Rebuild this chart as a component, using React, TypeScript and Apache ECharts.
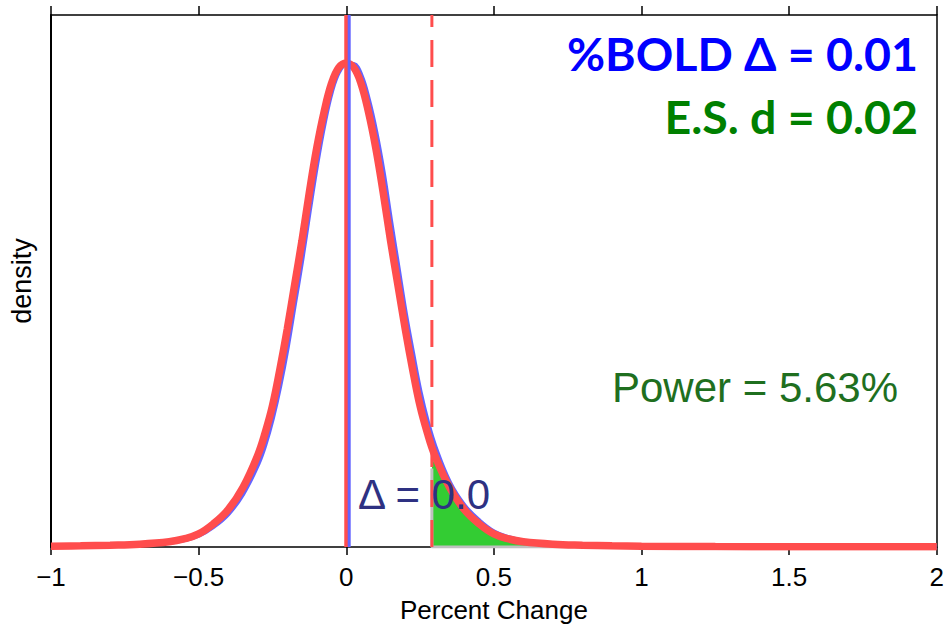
import React, { useEffect, useRef } from "react";
import * as echarts from "echarts";

// x grid (Percent Change)
const xs = [-1, -0.9, -0.8, -0.7, -0.6, -0.55, -0.5, -0.45, -0.4, -0.35, -0.3, -0.275, -0.25, -0.225, -0.2, -0.175, -0.15, -0.125, -0.1, -0.075, -0.05, -0.025, 0, 0.025, 0.05, 0.075, 0.1, 0.125, 0.15, 0.175, 0.2, 0.225, 0.25, 0.275, 0.3, 0.35, 0.4, 0.45, 0.5, 0.55, 0.6, 0.7, 0.8, 0.9, 1, 1.25, 1.5, 1.75, 2];

// null distribution density (red)
const nullDensity = [0.004, 0.006, 0.009, 0.014, 0.026, 0.04, 0.065, 0.115, 0.185, 0.295, 0.455, 0.565, 0.7, 0.88, 1.08, 1.3, 1.52, 1.76, 1.98, 2.16, 2.3, 2.38, 2.4, 2.38, 2.3, 2.16, 1.98, 1.76, 1.52, 1.3, 1.08, 0.88, 0.7, 0.565, 0.455, 0.295, 0.185, 0.115, 0.065, 0.04, 0.026, 0.014, 0.009, 0.006, 0.004, 0.002, 0.0015, 0.001, 0.001];

// alternative distribution density (blue)
const altDensity = [0.004, 0.006, 0.0085, 0.013, 0.024, 0.036, 0.058, 0.102, 0.165, 0.265, 0.41, 0.51, 0.64, 0.8, 0.99, 1.21, 1.43, 1.67, 1.9, 2.1, 2.26, 2.36, 2.397, 2.395, 2.34, 2.22, 2.06, 1.86, 1.62, 1.39, 1.16, 0.96, 0.77, 0.62, 0.5, 0.32, 0.205, 0.13, 0.075, 0.046, 0.029, 0.015, 0.0095, 0.0065, 0.0045, 0.002, 0.0015, 0.001, 0.001];

// power region (green)
const powerXs = [0.29, 0.3, 0.35, 0.4, 0.45, 0.5, 0.55, 0.6, 0.7, 0.8];
const powerYs = [0.39, 0.44, 0.3, 0.19, 0.12, 0.07, 0.043, 0.027, 0.014, 0.009];

const nullMean = 0;
const altMean = 0.01;
const criticalValue = 0.29;
const yMax = 2.64;

const xTickMin = -1;
const xTickMax = 2;
const xTickStep = 0.5;

const titleText1 = "%BOLD Δ = 0.01";
const titleText2 = "E.S. d = 0.02";
const powerText = "Power = 5.63%";
const deltaText = "Δ = 0.0";

export default function App() {
  const ref = useRef<HTMLDivElement>(null);

  useEffect(() => {
    document.body.style.margin = "0";
    if (!ref.current) return;
    const chart = echarts.init(ref.current, undefined, { renderer: "svg" });
    const pairs = (a: number[], b: number[]) => a.map((v, i) => [v, b[i]]);
    const font = "'Liberation Sans', Arial, Helvetica, sans-serif";

    chart.setOption({
      animation: false,
      backgroundColor: "#ffffff",
      grid: { left: 50, right: 9, top: 15, bottom: 81, containLabel: false },
      xAxis: [
        {
          type: "value",
          min: xTickMin,
          max: xTickMax,
          interval: xTickStep,
          position: "bottom",
          name: "Percent Change",
          nameLocation: "middle",
          nameGap: 50,
          nameTextStyle: { fontSize: 26, color: "#000", fontFamily: font },
          axisLine: { show: true, onZero: false, lineStyle: { color: "#000", width: 1.5 } },
          axisTick: { show: true, length: 8, lineStyle: { color: "#000", width: 1.5 } },
          axisLabel: {
            fontSize: 26,
            color: "#000",
            fontFamily: font,
            margin: 17,
            formatter: (v: number) => String(v).replace("-", "\u2212"),
          },
          splitLine: { show: false },
        },
        {
          type: "value",
          min: xTickMin,
          max: xTickMax,
          interval: xTickStep,
          position: "top",
          axisLine: { show: true, onZero: false, lineStyle: { color: "#000", width: 1.5 } },
          axisTick: { show: true, length: 9, lineStyle: { color: "#000", width: 1.5 } },
          axisLabel: { show: false },
          splitLine: { show: false },
        },
      ],
      yAxis: [
        {
          type: "value",
          min: 0,
          max: yMax,
          position: "left",
          name: "density",
          nameLocation: "middle",
          nameGap: 16,
          nameRotate: 90,
          nameTextStyle: { fontSize: 27, color: "#000", fontFamily: font },
          axisLine: { show: true, onZero: false, lineStyle: { color: "#000", width: 2 } },
          axisTick: { show: false },
          axisLabel: { show: false },
          splitLine: { show: false },
        },
        {
          type: "value",
          min: 0,
          max: yMax,
          position: "right",
          axisLine: { show: true, onZero: false, lineStyle: { color: "#000", width: 1.5 } },
          axisTick: { show: false },
          axisLabel: { show: false },
          splitLine: { show: false },
        },
      ],
      series: [
        {
          name: "power",
          type: "line",
          data: pairs(powerXs, powerYs),
          smooth: 0.3,
          symbol: "none",
          lineStyle: { width: 0 },
          areaStyle: { color: "#33cc33", opacity: 1 },
          z: 1,
          silent: true,
        },
        {
          name: "powerEdge",
          type: "line",
          data: [
            [criticalValue, powerYs[0]],
            [criticalValue, 0],
            [powerXs[powerXs.length - 1], 0],
          ],
          symbol: "none",
          lineStyle: { color: "#c0c0c0", width: 3 },
          z: 2,
          silent: true,
        },
        {
          name: "alternative",
          type: "line",
          data: pairs(xs, altDensity),
          smooth: 0.4,
          symbol: "none",
          lineStyle: { color: "#6464ff", width: 5 },
          z: 3,
          silent: true,
        },
        {
          name: "null",
          type: "line",
          data: pairs(xs, nullDensity),
          smooth: 0.4,
          symbol: "none",
          lineStyle: { color: "#ff4d4d", width: 7.5 },
          z: 4,
          silent: true,
        },
        {
          name: "nullMean",
          type: "line",
          data: [
            [nullMean, 0],
            [nullMean, yMax],
          ],
          symbol: "none",
          lineStyle: { color: "#ff4d4d", width: 4 },
          z: 5,
          silent: true,
        },
        {
          name: "altMean",
          type: "line",
          data: [
            [altMean, 0],
            [altMean, yMax],
          ],
          symbol: "none",
          lineStyle: { color: "#6464ff", width: 3 },
          z: 5,
          silent: true,
        },
        {
          name: "critical",
          type: "line",
          data: [
            [criticalValue, 0],
            [criticalValue, yMax],
          ],
          symbol: "none",
          lineStyle: { color: "#ff4d4d", width: 3, type: [27, 13] },
          z: 6,
          silent: true,
        },
      ],
      graphic: [
        {
          type: "text",
          right: 29,
          top: 29,
          z: 10,
          style: {
            text: titleText1,
            fill: "#0000ff",
            font: "bold 46.5px Lato, 'Open Sans', sans-serif",
            textAlign: "right",
          },
        },
        {
          type: "text",
          right: 29,
          top: 92,
          z: 10,
          style: {
            text: titleText2,
            fill: "#008000",
            font: "bold 46.5px Lato, 'Open Sans', sans-serif",
            textAlign: "right",
          },
        },
        {
          type: "text",
          left: 612,
          top: 366,
          z: 10,
          style: {
            text: powerText,
            fill: "#1f6f1f",
            font: "42px 'Liberation Sans', Arial, sans-serif",
          },
        },
        {
          type: "text",
          left: 358,
          top: 473,
          z: 10,
          style: {
            text: deltaText,
            fill: "#2e3182",
            font: "42px 'Liberation Sans', Arial, sans-serif",
          },
        },
      ],
    });

    return () => chart.dispose();
  }, []);

  return <div ref={ref} style={{ width: 947, height: 628 }} />;
}
